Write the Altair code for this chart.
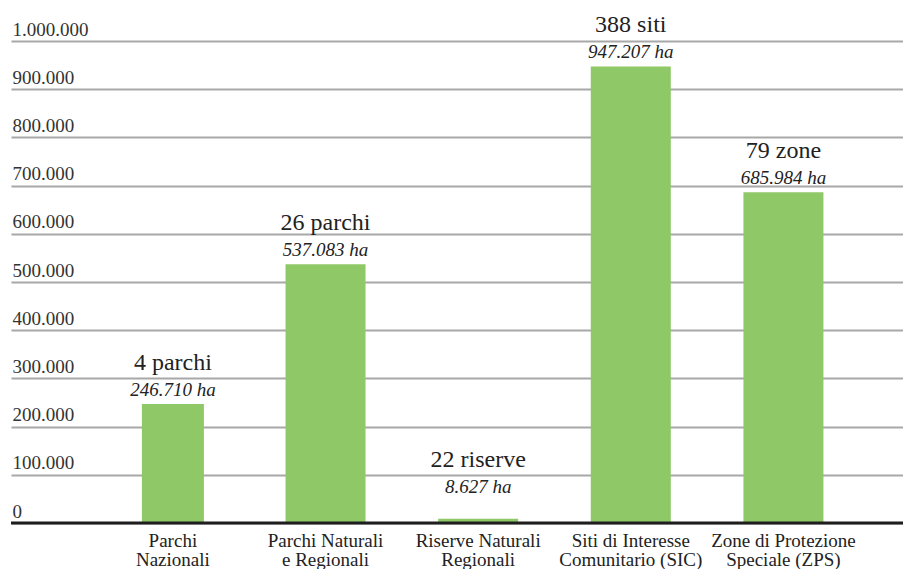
import altair as alt
import pandas as pd

# Aree protette: superficie (ettari) e numero di siti per tipologia
categories = [
    "Parchi\nNazionali",
    "Parchi Naturali\ne Regionali",
    "Riserve Naturali\nRegionali",
    "Siti di Interesse\nComunitario (SIC)",
    "Zone di Protezione\nSpeciale (ZPS)",
]
hectares = [246710, 537083, 8627, 947207, 685984]
counts = [4, 26, 22, 388, 79]
units = ["parchi", "parchi", "riserve", "siti", "zone"]
y_ticks = [0, 100000, 200000, 300000, 400000, 500000, 600000, 700000, 800000, 900000, 1000000]

df = pd.DataFrame({"categoria": categories, "ettari": hectares, "numero": counts, "unita": units})

FONT = "Liberation Serif"
GREEN = "#8fc866"
TEXT = "#222222"


def it_number(field):
    # thousands separated by dots (Italian style)
    return f"replace(replace(format({field}, ','), ',', '.'), ',', '.')"


x_enc = alt.X(
    "categoria:N",
    sort=categories,
    title=None,
    scale=alt.Scale(paddingInner=0.476, paddingOuter=0.66, align=0.605),
    axis=alt.Axis(
        labelExpr="split(datum.label, '\\n')",
        labelAngle=0,
        labelFont=FONT,
        labelFontSize=19,
        labelLineHeight=19,
        labelColor=TEXT,
        labelPadding=8,
        labelBaseline="top",
        domain=False,
        ticks=False,
        grid=False,
    ),
)

y_enc = alt.Y(
    "ettari:Q",
    title=None,
    scale=alt.Scale(domain=[0, 1000000], nice=False),
    axis=alt.Axis(
        values=y_ticks,
        labelExpr=it_number("datum.value"),
        labelAlign="left",
        labelBaseline="alphabetic",
        labelPadding=-1,
        labelOffset=-6,
        labelFont=FONT,
        labelFontSize=19,
        labelColor="#333333",
        labelOverlap=False,
        tickSize=0,
        ticks=False,
        domain=False,
        grid=True,
        gridColor="#a8a8a8",
        gridWidth=2,
    ),
)

base = alt.Chart(df).transform_calculate(
    conteggio="datum.numero + ' ' + datum.unita",
    superficie=it_number("datum.ettari") + " + ' ha'",
    # labels over very short bars sit a little higher
    etichetta_y="datum.ettari < 50000 ? datum.ettari + 37000 : datum.ettari",
)

bars = base.mark_bar(color=GREEN).encode(
    x=x_enc,
    y=y_enc,
    size=alt.condition("indexof(datum.categoria, 'Nazionali') >= 0", alt.value(62), alt.value(80)),
)

area_labels = base.mark_text(
    font=FONT, fontSize=19, fontStyle="italic", dy=-8, baseline="alphabetic", color=TEXT
).encode(
    x=alt.X("categoria:N", sort=categories),
    y=alt.Y("etichetta_y:Q"),
    text="superficie:N",
)

count_labels = base.mark_text(
    font=FONT, fontSize=24, dy=-34, baseline="alphabetic", color=TEXT
).encode(
    x=alt.X("categoria:N", sort=categories),
    y=alt.Y("etichetta_y:Q"),
    text="conteggio:N",
)

baseline = alt.Chart(pd.DataFrame({"zero": [0]})).mark_rule(color="#1e1e1e", strokeWidth=3).encode(
    y=alt.Y("zero:Q"),
    x=alt.value(0),
    x2=alt.value(892),
)

chart = (
    alt.layer(bars, baseline, area_labels, count_labels)
    .properties(
        width=892,
        height=482,
        autosize=alt.AutoSizeParams(type="none"),
        padding={"left": 11, "top": 41, "right": 0, "bottom": 46},
        background="white",
    )
    .configure(font=FONT)
    .configure_view(stroke=None)
)

chart.save("out.html", embed_options={"renderer": "svg", "actions": False})
